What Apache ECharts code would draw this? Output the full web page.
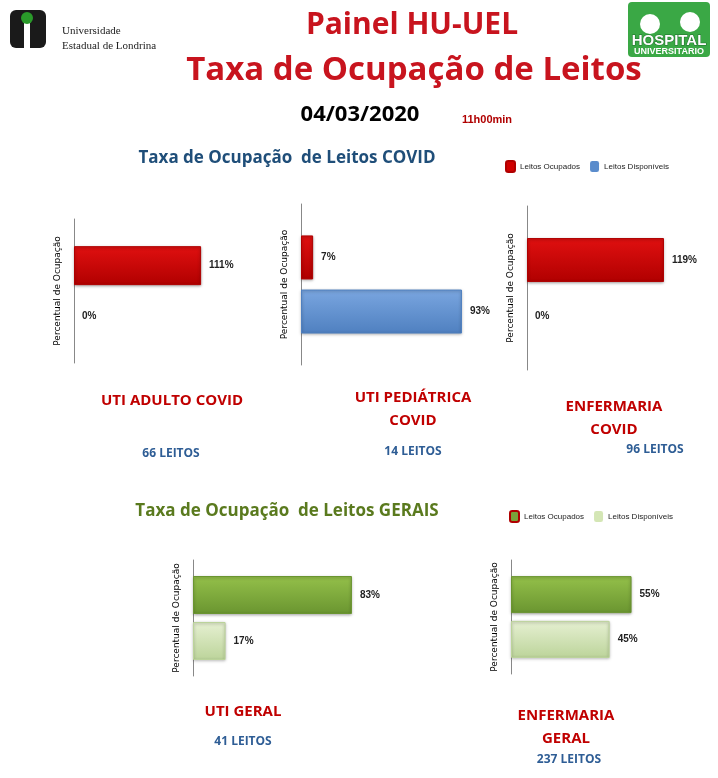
<!DOCTYPE html>
<html lang="pt-BR" style="height: 100%">
<head>
  <meta charset="utf-8">
</head>
<body style="height: 100%; margin: 0; background: #fff">
  <div id="container" style="width: 718px; height: 778px"></div>
  <script type="text/javascript" src="https://cdn.jsdelivr.net/npm/echarts@6/dist/echarts.min.js"></script>
  <script type="text/javascript">
    var seriesNames = ['Leitos Ocupados', 'Leitos Disponíveis'];
    var unidades = ['UTI ADULTO COVID', 'UTI PEDIÁTRICA\nCOVID', 'ENFERMARIA\nCOVID', 'UTI GERAL', 'ENFERMARIA\nGERAL'];
    var leitos = ['66 LEITOS', '14 LEITOS', '96 LEITOS', '41 LEITOS', '237 LEITOS'];
    var ocupados = [111, 7, 119, 83, 55];
    var disponiveis = [0, 93, 0, 17, 45];

    // layout de cada painel (posição em px)
    var panels = [
      {left: 74,  top: 219, h: 144, w: 150, max: 131, bw: 39, gap: '30%', c: ['#e01010', '#b00000'], c2: ['#7aa6e0', '#4f80c0']},
      {left: 301, top: 204, h: 161, w: 180, max: 104, bw: 44, gap: '23%', c: ['#e01010', '#b00000'], c2: ['#7aa6e0', '#4f80c0']},
      {left: 527, top: 206, h: 164, w: 160, max: 139, bw: 44, gap: '27%', c: ['#e01010', '#b00000'], c2: ['#7aa6e0', '#4f80c0']},
      {left: 193, top: 560, h: 116, w: 180, max: 94,  bw: 38, gap: '21%', c: ['#94c04a', '#6a9530'], c2: ['#e6f0d2', '#bcd49a']},
      {left: 511, top: 560, h: 114, w: 160, max: 73,  bw: 37, gap: '21%', c: ['#94c04a', '#6a9530'], c2: ['#e6f0d2', '#bcd49a']}
    ];

    var grad = function(c) {
      return new echarts.graphic.LinearGradient(0, 0, 0, 1, [
        {offset: 0, color: c[0]}, {offset: 1, color: c[1]}
      ]);
    };

    var grid = [], xAxis = [], yAxis = [], series = [];
    panels.forEach(function(p, i) {
      grid.push({left: p.left, top: p.top, width: p.w, height: p.h});
      xAxis.push({gridIndex: i, type: 'value', min: 0, max: p.max, show: false});
      yAxis.push({
        gridIndex: i, type: 'category', data: [''],
        axisLine: {lineStyle: {color: '#888'}}, axisTick: {show: false}, axisLabel: {show: false},
        name: 'Percentual de Ocupação', nameLocation: 'middle', nameGap: 12, nameRotate: 90,
        nameTextStyle: {fontSize: 9, color: '#000', fontFamily: 'DejaVu Sans'}
      });
      var lbl = {show: true, position: 'right', distance: 8, formatter: '{c}%', fontSize: 10,
                 fontWeight: 'bold', color: '#222', fontFamily: 'Liberation Sans'};
      series.push({
        name: seriesNames[0], type: 'bar', xAxisIndex: i, yAxisIndex: i, data: [ocupados[i]],
        barWidth: p.bw, barGap: p.gap, label: lbl,
        itemStyle: {color: grad(p.c), borderColor: p.c[1], borderWidth: ocupados[i] ? 1 : 0, shadowBlur: 3, shadowColor: 'rgba(0,0,0,0.35)', shadowOffsetY: 1}
      });
      series.push({
        name: seriesNames[1], type: 'bar', xAxisIndex: i, yAxisIndex: i, data: [disponiveis[i]],
        barWidth: p.bw, barGap: p.gap, label: lbl,
        itemStyle: {color: grad(p.c2), borderColor: p.c2[1], borderWidth: disponiveis[i] ? 1 : 0, shadowBlur: disponiveis[i] ? 3 : 0, shadowColor: 'rgba(0,0,0,0.35)', shadowOffsetY: 1}
      });
    });

    var unitPos = [[172, 401], [413, 409], [614, 418], [243, 712], [566, 727]];
    var leitoPos = [[171, 454], [413, 452], [655, 450], [243, 742], [569, 760]];

    var graphic = [
      // logo UEL
      {type: 'rect', shape: {x: 10, y: 10, width: 36, height: 38, r: 6}, style: {fill: '#1a1a1a'}},
      {type: 'rect', shape: {x: 24, y: 20, width: 6, height: 28}, style: {fill: '#fff'}},
      {type: 'circle', shape: {cx: 27, cy: 18, r: 6}, style: {fill: '#2a9a2a'}},
      {type: 'text', left: 62, top: 24, style: {text: 'Universidade\nEstadual de Londrina', fontSize: 11, lineHeight: 15, fill: '#222', fontFamily: 'Liberation Serif'}},
      // logo HU
      {type: 'rect', shape: {x: 628, y: 2, width: 82, height: 55, r: 4}, style: {fill: '#3aa845'}},
      {type: 'circle', shape: {cx: 650, cy: 24, r: 10}, style: {fill: '#fff'}},
      {type: 'circle', shape: {cx: 690, cy: 22, r: 10}, style: {fill: '#fff'}},
      {type: 'text', x: 669, y: 33, style: {text: 'HOSPITAL', align: 'center', fontSize: 15, fontWeight: 'bold', fill: '#fff', stroke: '#1f6e2a', lineWidth: 1, fontFamily: 'Liberation Sans'}},
      {type: 'text', x: 669, y: 47, style: {text: 'UNIVERSITARIO', align: 'center', fontSize: 9, fontWeight: 'bold', fill: '#fff', fontFamily: 'Liberation Sans'}},
      // titulos
      {type: 'text', x: 412, y: 10, style: {text: 'Painel HU-UEL', align: 'center', fontSize: 30, fontWeight: 'bold', fill: '#c8141e', fontFamily: 'Open Sans', shadowBlur: 3, shadowColor: 'rgba(0,0,0,0.4)', shadowOffsetY: 2}},
      {type: 'text', x: 414, y: 54, style: {text: 'Taxa de Ocupação de Leitos', align: 'center', fontSize: 33, fontWeight: 'bold', fill: '#c8141e', fontFamily: 'Open Sans', shadowBlur: 3, shadowColor: 'rgba(0,0,0,0.4)', shadowOffsetY: 2}},
      {type: 'text', x: 360, y: 104, style: {text: '04/03/2020', align: 'center', fontSize: 22, fontWeight: 'bold', fill: '#000', fontFamily: 'Open Sans'}},
      {type: 'text', x: 487, y: 114, style: {text: '11h00min', align: 'center', fontSize: 11, fontWeight: 'bold', fill: '#b00000', fontFamily: 'Liberation Sans'}},
      {type: 'text', x: 287, y: 150, style: {text: 'Taxa de Ocupação  de Leitos COVID', align: 'center', fontSize: 17, fontWeight: 'bold', fill: '#1f4e79', fontFamily: 'Open Sans'}},
      {type: 'text', x: 287, y: 503, style: {text: 'Taxa de Ocupação  de Leitos GERAIS', align: 'center', fontSize: 17, fontWeight: 'bold', fill: '#5a7a1e', fontFamily: 'Open Sans'}}
    ];
    unidades.forEach(function(u, i) {
      graphic.push({type: 'text', x: unitPos[i][0], y: unitPos[i][1], style: {text: u, align: 'center', verticalAlign: 'middle', fontSize: 15, lineHeight: 23, fontWeight: 'bold', fill: '#c00000', fontFamily: 'Open Sans', shadowBlur: 2, shadowColor: 'rgba(0,0,0,0.35)', shadowOffsetY: 1}});
      graphic.push({type: 'text', x: leitoPos[i][0], y: leitoPos[i][1], style: {text: leitos[i], align: 'center', verticalAlign: 'middle', fontSize: 12, fontWeight: 'bold', fill: '#2e5d95', fontFamily: 'Open Sans'}});
    });

    var legendBase = {orient: 'horizontal', itemWidth: 9, itemHeight: 11, itemGap: 10, selectedMode: false,
                      textStyle: {fontSize: 8, color: '#222', fontFamily: 'Liberation Sans'}};
    var legend = [
      Object.assign({left: 500, top: 155, data: [
        {name: seriesNames[0], itemStyle: {color: '#d00000'}},
        {name: seriesNames[1], itemStyle: {color: '#5a8ccc'}}
      ]}, legendBase),
      Object.assign({left: 504, top: 505, data: [
        {name: seriesNames[0], itemStyle: {color: '#7aa33a'}},
        {name: seriesNames[1], itemStyle: {color: '#d4e6b5'}}
      ]}, legendBase)
    ];

    var myChart = echarts.init(document.getElementById('container'));
    myChart.setOption({
      animation: false,
      legend: legend,
      grid: grid,
      xAxis: xAxis,
      yAxis: yAxis,
      series: series,
      graphic: graphic
    });
  </script>
</body>
</html>
